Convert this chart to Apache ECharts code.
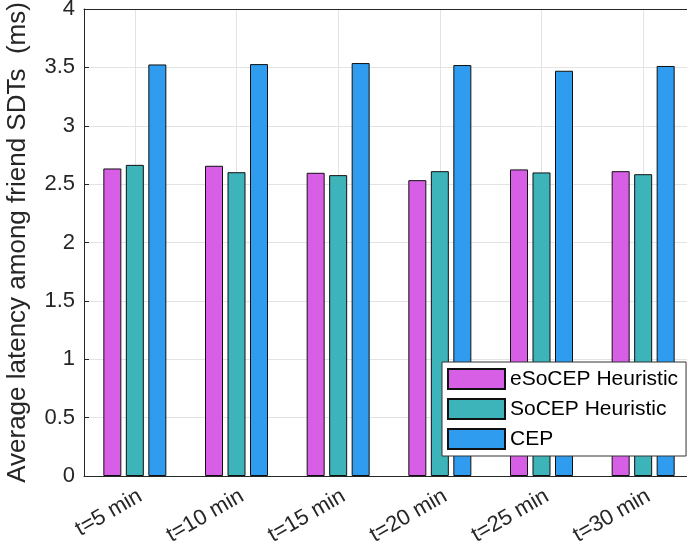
<!DOCTYPE html>
<html>
<head>
<meta charset="utf-8">
<script src="https://cdn.jsdelivr.net/npm/echarts@6/dist/echarts.min.js"></script>
<style>
  html, body { margin: 0; padding: 0; background: #fff; overflow: hidden; }
  /* the plot box runs past the right edge of the picture, as in the reference */
  #chart { width: 700px; height: 556px; }
</style>
</head>
<body>
<div id="chart"></div>
<script>
const categories = ['t=5 min', 't=10 min', 't=15 min', 't=20 min', 't=25 min', 't=30 min'];
const esocep = [2.634, 2.657, 2.597, 2.534, 2.626, 2.611];
const socep = [2.665, 2.602, 2.577, 2.611, 2.600, 2.585];
const cep = [3.525, 3.528, 3.537, 3.520, 3.471, 3.512];

const FONT = 'Liberation Sans, Arial, sans-serif';
const TXT = '#262626';

const chart = echarts.init(document.getElementById('chart'));

function barSeries(name, data, color) {
  return {
    name: name,
    type: 'bar',
    data: data,
    barWidth: 18,
    barGap: '25%',
    itemStyle: { color: color, borderColor: '#111', borderWidth: 1 }
  };
}

chart.setOption({
  animation: false,
  grid: { left: 84, top: 9, right: 6, bottom: 80, outerBoundsMode: 'none' },
  legend: {
    orient: 'vertical',
    left: 442,
    top: 362,
    padding: [6, 8, 6, 5],
    itemWidth: 57,
    itemHeight: 20,
    itemGap: 8,
    icon: 'rect',
    backgroundColor: '#fff',
    borderColor: '#333',
    borderWidth: 1,
    textStyle: { fontFamily: FONT, fontSize: 21, color: '#000' },
    data: ['eSoCEP Heuristic', 'SoCEP Heuristic', 'CEP']
  },
  xAxis: [{
    type: 'category',
    data: categories,
    axisLine: { lineStyle: { color: '#262626', width: 1 } },
    axisTick: { inside: true, alignWithLabel: true, length: 5, lineStyle: { color: '#262626' } },
    axisLabel: { rotate: 30, verticalAlign: 'top', fontFamily: FONT, fontSize: 22, color: TXT, margin: 9 },
    splitLine: { show: true, alignWithLabel: true, lineStyle: { color: '#e3e3e3' } }
  }, {
    type: 'category',
    data: categories,
    position: 'top',
    axisLine: { lineStyle: { color: '#262626', width: 1 } },
    axisTick: { inside: true, alignWithLabel: true, length: 5, lineStyle: { color: '#262626' } },
    axisLabel: { show: false },
    splitLine: { show: false }
  }],
  yAxis: {
    type: 'value',
    min: 0,
    max: 4,
    interval: 0.5,
    name: 'Average latency among friend SDTs  (ms)',
    nameLocation: 'middle',
    nameGap: 53,
    nameTextStyle: { fontFamily: FONT, fontSize: 26, color: TXT },
    axisLine: { show: true, lineStyle: { color: '#262626', width: 1 } },
    axisTick: { show: true, inside: true, length: 5, lineStyle: { color: '#262626' } },
    axisLabel: { fontFamily: FONT, fontSize: 22, color: TXT, margin: 9 },
    splitLine: { show: true, lineStyle: { color: '#e3e3e3' } }
  },
  series: [
    barSeries('eSoCEP Heuristic', esocep, '#d65fe6'),
    barSeries('SoCEP Heuristic', socep, '#3cb4ba'),
    barSeries('CEP', cep, '#2f9cef')
  ]
});
</script>
</body>
</html>
